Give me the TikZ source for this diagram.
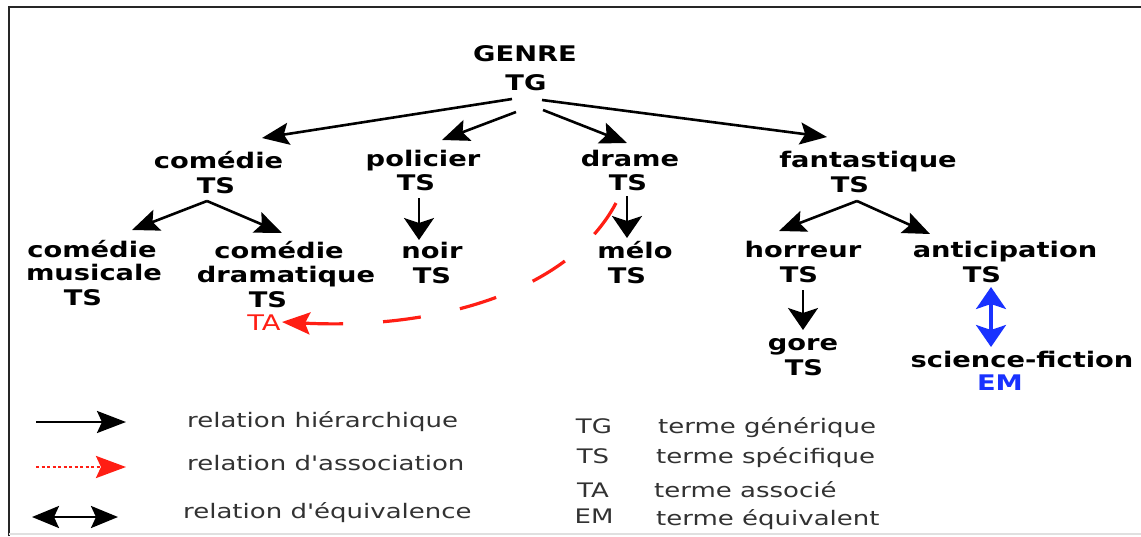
\documentclass[tikz,border=0pt]{standalone}
\usepackage{fontspec}
\setmainfont{DejaVu Sans}[FakeStretch=1.27]
\newfontfamily\legfont{DejaVu Sans}[FakeStretch=1.3]
\usetikzlibrary{arrows.meta,calc}
\definecolor{myred}{RGB}{255,30,20}
\definecolor{myblue}{RGB}{25,50,255}
\definecolor{leggray}{RGB}{50,50,50}
\begin{document}
\begin{tikzpicture}[x=1pt,y=-1pt,
  term/.style={font=\fontsize{21.5}{24}\selectfont\bfseries, inner sep=0pt, anchor=base},
  leg/.style={font=\legfont\fontsize{20}{22}\selectfont, text=leggray, inner sep=0pt},
  harr/.style={line width=2.6pt, -{Stealth[length=27pt,width=22pt,inset=5pt]}},
  varr/.style={line width=2.6pt, -{Stealth[length=22pt,width=30pt,inset=5pt]}},
  asso/.style={line width=3.2pt, myred, dash pattern=on 38pt off 40pt, -{Stealth[length=28pt,width=22pt,inset=5pt]}},
  equi/.style={line width=3.2pt, myblue, {Stealth[length=22pt,width=30pt,inset=5pt]}-{Stealth[length=22pt,width=30pt,inset=5pt]}}
]
\useasboundingbox (0,0) rectangle (1141,536);
\fill[white] (0,0) rectangle (1141,536);
% frame
\draw[line width=2.2pt, black!85] (9,536) -- (9,7) -- (1141,7);
\draw[line width=1.5pt, black!12] (9,534) -- (1141,534);

% terms
\node[term] (genre) at (525,61) {GENRE};
\node[term] (genreTG) at (526,90) {TG};
\node[term] (comedie) at (218.5,168) {comédie};
\node[term] (comedieTS) at (216,193) {TS};
\node[term] (policier) at (423,166) {policier};
\node[term] (policierTS) at (416,190) {TS};
\node[term] (drame) at (630,166) {drame};
\node[term] (drameTS) at (628,190) {TS};
\node[term] (fantastique) at (868,167) {fantastique};
\node[term] (fantastiqueTS) at (850,192) {TS};

\node[term] (cm) at (92,257) {comédie};
\node[term] (cmB) at (94,280) {musicale};
\node[term] (cmTS) at (83,305) {TS};
\node[term] (cd) at (279,258) {comédie};
\node[term] (cdB) at (286,282) {dramatique};
\node[term] (cdTS) at (268,307) {TS};
\node[term, font=\fontsize{21.5}{24}\selectfont, text=myred] (cdTA) at (264,330) {TA};
\node[term] (noir) at (432,258) {noir};
\node[term] (noirTS) at (432,283) {TS};
\node[term] (melo) at (635,258) {mélo};
\node[term] (meloTS) at (627,283) {TS};
\node[term] (horreur) at (803,257) {horreur};
\node[term] (horreurTS) at (799,282) {TS};
\node[term] (anticipation) at (1005,257) {anticipation};
\node[term] (anticipationTS) at (982,282) {TS};
\node[term] (gore) at (803,350) {gore};
\node[term] (goreTS) at (804,375) {TS};
\node[term] (scifi) at (1022,367) {science-fiction};
\node[term, text=myblue] (scifiEM) at (1000,390) {EM};

% hierarchical arrows
\draw[harr] ($(genreTG.base)+(-14,9)$) -- ($(comedie.base)+(43.5,-30)$);
\draw[harr] ($(genreTG.base)+(-10,22)$) -- ($(policier.base)+(19,-26)$);
\draw[harr] ($(genreTG.base)+(17,20)$) -- ($(drame.base)+(-3,-23)$);
\draw[harr] ($(genreTG.base)+(16,10)$) -- ($(fantastique.base)+(-41,-30)$);
\draw[harr] ($(comedieTS.base)+(-9,8)$) -- ($(cm.base)+(40,-27)$);
\draw[harr] ($(comedieTS.base)+(-9,8)$) -- ($(cd.base)+(3,-25)$);
\draw[varr] ($(policierTS.base)+(3,8)$) -- ($(noir.base)+(-13,-18)$);
\draw[varr] ($(drameTS.base)+(-1,6)$) -- ($(melo.base)+(-8,-20)$);
\draw[harr] ($(fantastiqueTS.base)+(7,9)$) -- ($(horreur.base)+(-24,-26)$);
\draw[harr] ($(fantastiqueTS.base)+(7,9)$) -- ($(anticipation.base)+(-75,-23)$);
\draw[varr] ($(horreurTS.base)+(4,8)$) -- ($(gore.base)+(0,-20)$);
% equivalence
\draw[equi] ($(anticipationTS.base)+(9,5)$) -- ($(scifi.base)+(-31,-20)$);
% association
\draw[asso] ($(drameTS.base)+(-12,13)$) .. controls (570,290) and (440,330) .. ($(cdTA.base)+(18,-8)$);

% legend
\coordinate (l1a) at (36,422); \coordinate (l1b) at (126,422);
\coordinate (l2a) at (36,467); \coordinate (l2b) at (126,467);
\coordinate (l3a) at (32,517); \coordinate (l3b) at (118,517);
\draw[line width=2.6pt, -{Stealth[length=29pt,width=22pt,inset=5pt]}] (l1a) -- (l1b);
\draw[line width=2.8pt, myred, dash pattern=on 3pt off 2.5pt, -{Stealth[length=30pt,width=22pt,inset=5pt]}] (l2a) -- (l2b);
\draw[line width=2.6pt, {Stealth[length=27pt,width=22pt,inset=5pt]}-{Stealth[length=27pt,width=22pt,inset=5pt]}] (l3a) -- (l3b);

\node[leg, anchor=base west] (r1) at (187,427) {relation hiérarchique};
\node[leg, anchor=base west] (r2) at (187,470) {relation d'association};
\node[leg, anchor=base west] (r3) at (183,518) {relation d'équivalence};

\node[leg, anchor=base] (kTG) at (594,433) {TG};
\node[leg, anchor=base] (kTS) at (593,463) {TS};
\node[leg, anchor=base] (kTA) at (593,497) {TA};
\node[leg, anchor=base] (kEM) at (594,523) {EM};
\node[leg, anchor=base west] (dTG) at (658,433) {terme générique};
\node[leg, anchor=base west] (dTS) at (656,463) {terme spécifique};
\node[leg, anchor=base west] (dTA) at (654,497) {terme associé};
\node[leg, anchor=base west] (dEM) at (656,525) {terme équivalent};
\end{tikzpicture}
\end{document}
